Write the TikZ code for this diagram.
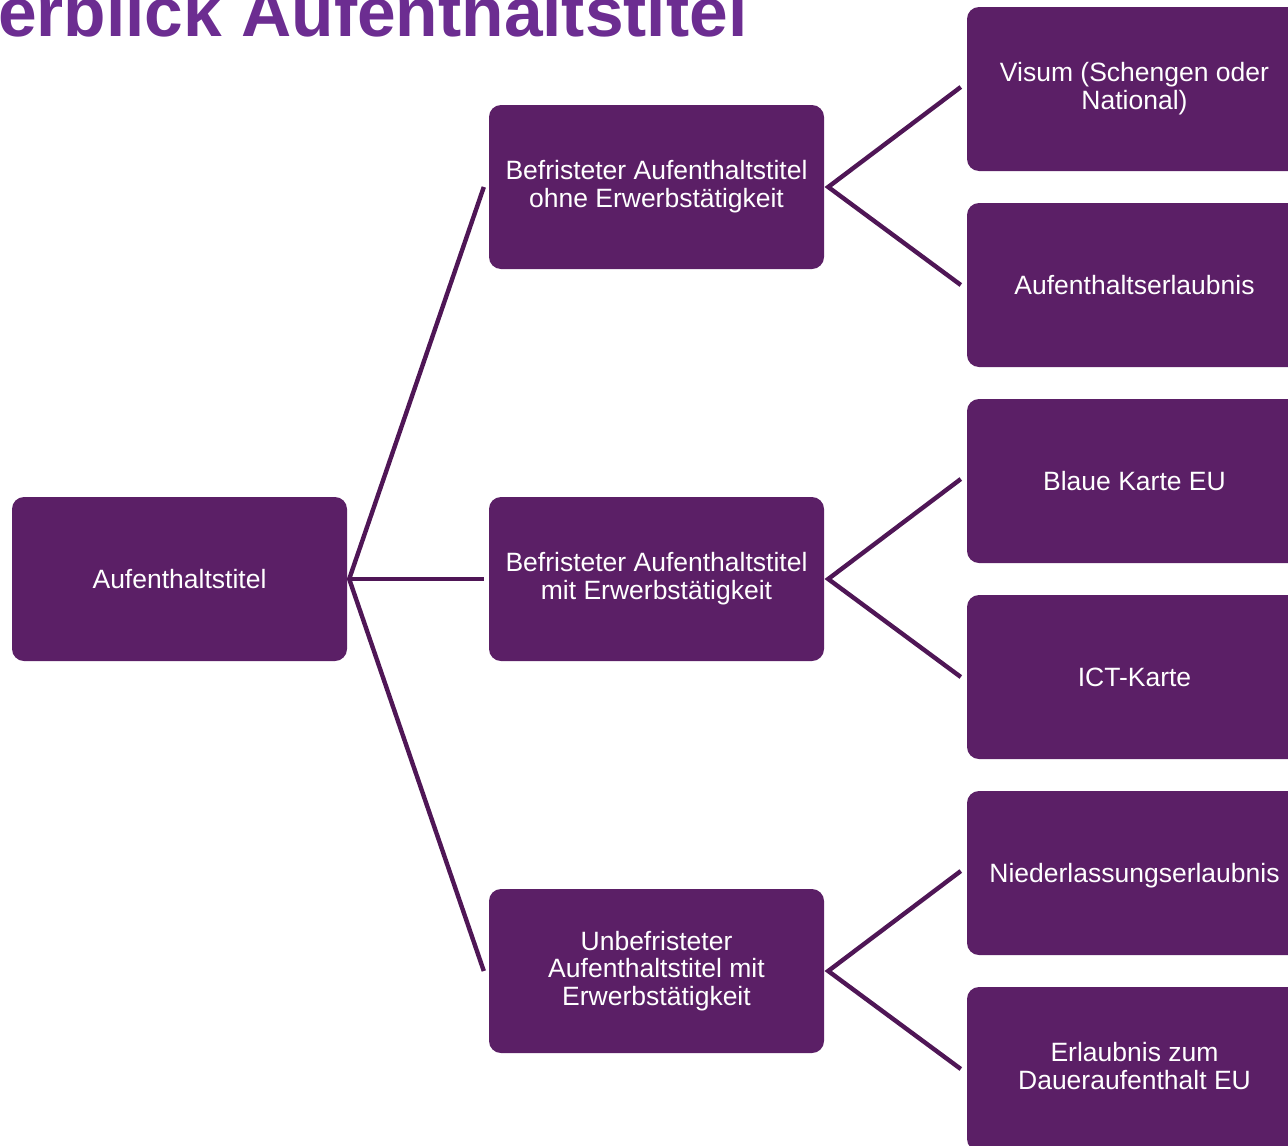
\documentclass[tikz,border=0pt]{standalone}
\usepackage{fontspec}
\setmainfont{Liberation Sans}
\usepackage{xcolor}
\definecolor{boxlila}{HTML}{5B1F66}
\definecolor{linienlila}{HTML}{4F1656}
\definecolor{titellila}{HTML}{6C2D91}

\begin{document}
\begin{tikzpicture}[x=1pt,y=-1pt,
    kasten/.style={rectangle, rounded corners=12pt, fill=boxlila, text=white,
        minimum width=335pt, minimum height=164pt, inner sep=0pt, align=center,
        font=\fontsize{26.5}{27.7}\selectfont,
        execute at begin node={\rule[-5.6pt]{0pt}{29.6pt}},
        execute at end node={\rule[-5.6pt]{0pt}{5.6pt}}},
    linie/.style={draw=linienlila, line width=4.4pt}]
    \useasboundingbox (0,0) rectangle (1288,1146);

    % Titel (oben und links abgeschnitten)
    \node[anchor=base west, inner sep=0pt, text=titellila,
        font=\fontsize{69.5}{70}\selectfont\bfseries] (titel) at (-2,36) {erblick Aufenthaltstitel};

    % Wurzel
    \node[kasten] (auf) at (179.5,579) {Aufenthaltstitel};

    % Zweite Ebene
    \node[kasten] (ohne) at (656.5,187) {Befristeter Aufenthaltstitel\\ohne Erwerbstätigkeit};
    \node[kasten] (mit) at (656.5,579) {Befristeter Aufenthaltstitel\\mit Erwerbstätigkeit};
    \node[kasten] (unbef) at (656.5,971) {Unbefristeter\\Aufenthaltstitel mit\\Erwerbstätigkeit};

    % Dritte Ebene (rechts abgeschnitten)
    \node[kasten] (visum) at (1134.5,89) {Visum (Schengen oder\\National)};
    \node[kasten] (erl) at (1134.5,285) {Aufenthaltserlaubnis};
    \node[kasten] (blau) at (1134.5,481) {Blaue Karte EU};
    \node[kasten] (ict) at (1134.5,677) {ICT-Karte};
    \node[kasten] (nied) at (1134.5,873) {Niederlassungserlaubnis};
    \node[kasten] (dauer) at (1134.5,1069) {Erlaubnis zum\\Daueraufenthalt EU};

    % Verbindungen
    \draw[linie] ([xshift=-5pt]ohne.west) -- ([xshift=2pt]auf.east) -- ([xshift=-5pt]unbef.west);
    \draw[linie] ([xshift=2pt]auf.east) -- ([xshift=-5pt]mit.west);
    \draw[linie] ([xshift=-6pt,yshift=2pt]visum.west) -- ([xshift=4pt]ohne.east) -- ([xshift=-6pt]erl.west);
    \draw[linie] ([xshift=-6pt,yshift=2pt]blau.west) -- ([xshift=4pt]mit.east) -- ([xshift=-6pt]ict.west);
    \draw[linie] ([xshift=-6pt,yshift=2pt]nied.west) -- ([xshift=4pt]unbef.east) -- ([xshift=-6pt]dauer.west);
\end{tikzpicture}
\end{document}
